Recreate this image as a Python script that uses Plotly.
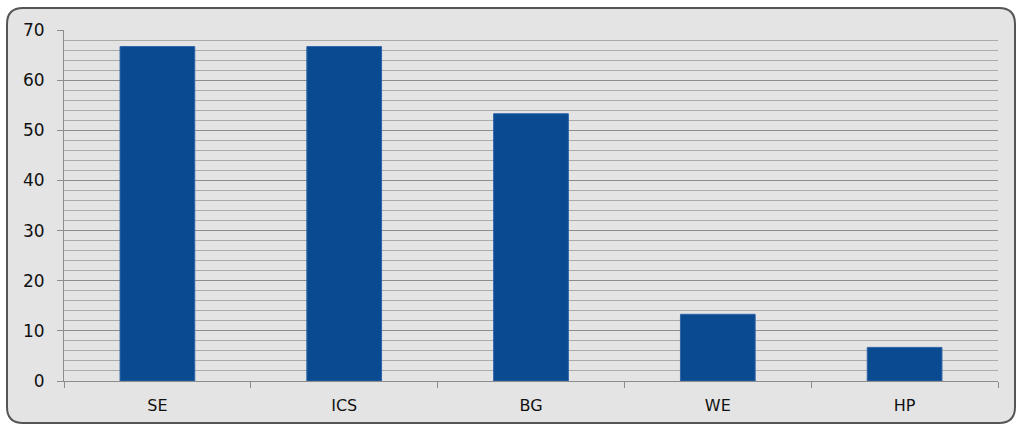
import plotly.graph_objects as go

categories = ["SE", "ICS", "BG", "WE", "HP"]
values = [66.7, 66.7, 53.3, 13.3, 6.7]
y_ticks = [0, 10, 20, 30, 40, 50, 60, 70]

W, H = 1017, 424
L, R, T, B = 64, 19, 30, 43
PW, PH = W - L - R, H - T - B

def px(x):
    return (x - L) / PW

def py(y):
    return (H - B - y) / PH

# rounded background box (pixel coords converted to paper)
x0, x1, y0, y1, r = 7, 1015, 8, 423, 16
path = (
    f"M {px(x0 + r)},{py(y0)} L {px(x1 - r)},{py(y0)} "
    f"Q {px(x1)},{py(y0)} {px(x1)},{py(y0 + r)} "
    f"L {px(x1)},{py(y1 - r)} Q {px(x1)},{py(y1)} {px(x1 - r)},{py(y1)} "
    f"L {px(x0 + r)},{py(y1)} Q {px(x0)},{py(y1)} {px(x0)},{py(y1 - r)} "
    f"L {px(x0)},{py(y0 + r)} Q {px(x0)},{py(y0)} {px(x0 + r)},{py(y0)} Z"
)

fig = go.Figure(
    go.Bar(
        x=categories,
        y=values,
        width=0.4,
        marker=dict(color="#0A4A91", line=dict(color="#2E64A8", width=1)),
    )
)

fig.update_layout(
    width=W,
    height=H,
    margin=dict(l=L, r=R, t=T, b=B),
    paper_bgcolor="white",
    plot_bgcolor="rgba(0,0,0,0)",
    showlegend=False,
    font=dict(family="DejaVu Sans", size=16, color="#111"),
    shapes=[
        dict(
            type="path",
            path=path,
            xref="paper",
            yref="paper",
            fillcolor="#E4E4E4",
            line=dict(color="#555555", width=2),
            layer="below",
        )
    ],
)

fig.update_yaxes(
    range=[0, 70],
    tickvals=y_ticks,
    showgrid=True,
    gridcolor="#8C8C8C",
    gridwidth=1,
    minor=dict(dtick=2, showgrid=True, gridcolor="#ABABAB", gridwidth=1),
    showline=True,
    linecolor="#8C8C8C",
    linewidth=1,
    ticks="outside",
    ticklen=6,
    tickcolor="#8C8C8C",
    ticklabelstandoff=9,
    zeroline=False,
    tickfont=dict(size=17),
    automargin=False,
)

fig.update_xaxes(
    showline=True,
    linecolor="#8C8C8C",
    linewidth=1,
    ticks="outside",
    ticklen=6,
    tickcolor="#8C8C8C",
    tickson="boundaries",
    showgrid=False,
    tickfont=dict(size=16),
    ticklabelstandoff=10,
    automargin=False,
)

fig.write_html("out.html")
